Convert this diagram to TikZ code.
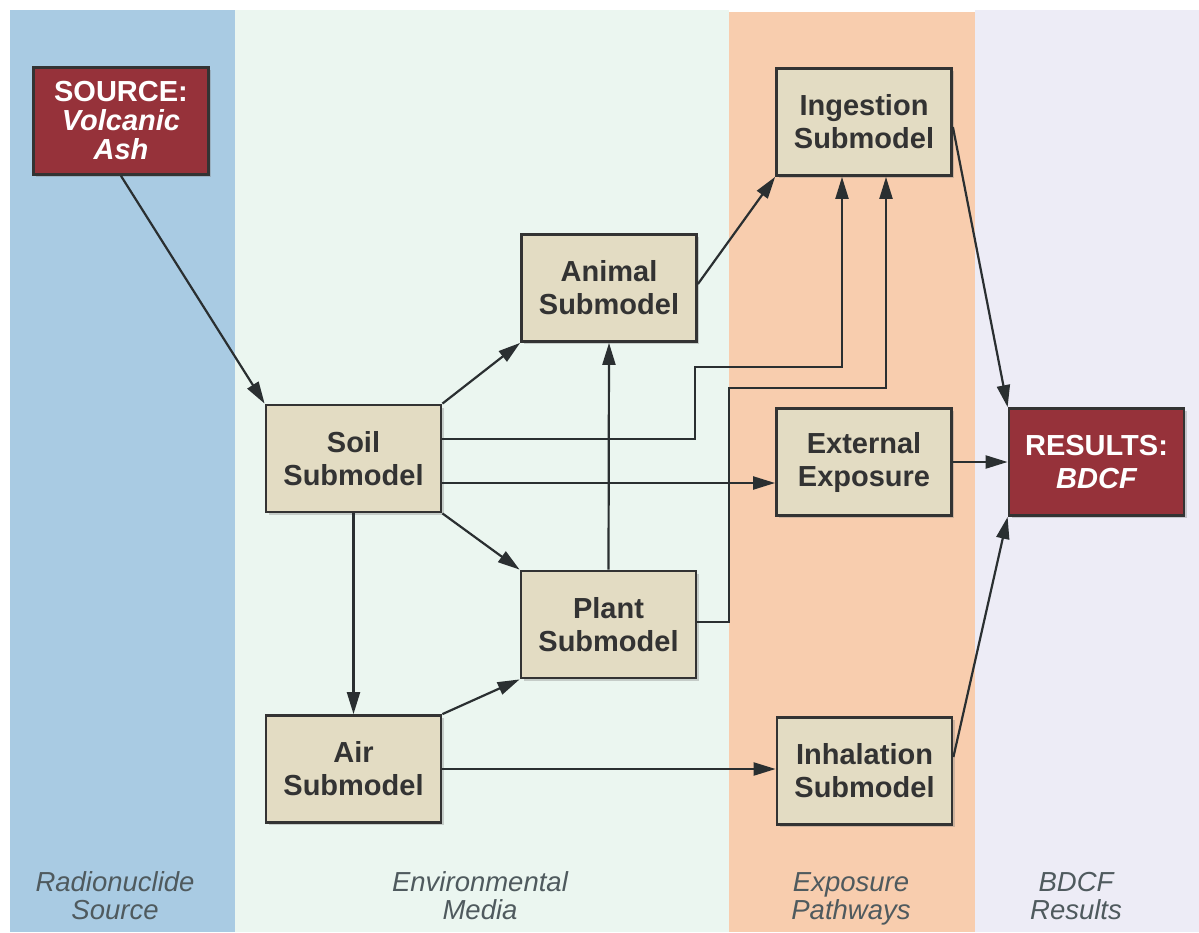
\documentclass[tikz,border=0pt]{standalone}
\usepackage{fontspec}
\setmainfont{Liberation Sans}
\usetikzlibrary{arrows.meta,shadows,calc}
\definecolor{bandblue}{HTML}{A9CBE3}
\definecolor{bandgreen}{HTML}{EBF6F0}
\definecolor{bandorange}{HTML}{F8CDAE}
\definecolor{bandlav}{HTML}{EDECF6}
\definecolor{boxfill}{HTML}{E3DCC3}
\definecolor{boxred}{HTML}{96323A}
\definecolor{boxline}{HTML}{333333}
\definecolor{boxtext}{HTML}{333333}
\definecolor{arrcol}{HTML}{2A2F31}
\definecolor{labelcol}{HTML}{4F5A5E}
\begin{document}
\begin{tikzpicture}[x=1pt,y=-1pt,
  box/.style={draw=boxline, line width=2.8pt, fill=boxfill,
    minimum width=175pt, minimum height=107pt, inner sep=0pt, align=center,
    font=\fontsize{29}{33}\selectfont\bfseries, text=boxtext,
    drop shadow={shadow xshift=2.5pt, shadow yshift=-2.5pt, opacity=0.35}},
  redbox/.style={box, fill=boxred, text=white},
  arr/.style={line width=2.2pt, draw=arrcol, -{Triangle[length=22pt,width=13pt]}},
  bandlabel/.style={font=\fontsize{27.5}{28}\selectfont\itshape, text=labelcol,
    align=center, inner sep=0pt}
]
\useasboundingbox (0,0) rectangle (1199,932);
\fill[white] (0,0) rectangle (1199,932);
\fill[bandblue] (10,10) rectangle (235,932);
\fill[bandgreen] (235,10) rectangle (729,932);
\fill[bandorange] (729,12) rectangle (975,932);
\fill[bandlav] (975,10) rectangle (1199,932);

% nodes
\node[redbox, font=\fontsize{29}{29}\selectfont\bfseries] (src) at (121,121)
  {SOURCE:\\{\itshape Volcanic}\\{\itshape Ash}};
\node[box] (ing) at (864,122) {Ingestion\\Submodel};
\node[box] (ani) at (609,288) {Animal\\Submodel};
\node[box] (soil) at (353.5,458.5) {Soil\\Submodel};
\node[box] (ext) at (864,462) {External\\Exposure};
\node[redbox] (res) at (1096.5,462) {RESULTS:\\{\itshape BDCF}};
\node[box] (plant) at (608.5,624.5) {Plant\\Submodel};
\node[box] (air) at (353.5,769) {Air\\Submodel};
\node[box] (inh) at (864.5,771) {Inhalation\\Submodel};

% band labels
\node[bandlabel] (l1) at (115,900) {Radionuclide\\Source\strut};
\node[bandlabel] (l2) at (480,900) {Environmental\\Media\strut};
\node[bandlabel] (l3) at (851,900) {Exposure\\Pathways\strut};
\node[bandlabel] (l4) at (1076,900) {BDCF\\Results\strut};

% connectors
\draw[arr] (src.south) -- (soil.north west);
\draw[arr] (soil.north east) -- (ani.south west);
\draw[arr] (soil.east |- 0,439) -- (695,439) -- (695,367) -- (842,367) -- (ing.south -| 842,0);
\draw[arr] (soil.east |- 0,483) -- (ext.west |- 0,483);
\draw[arr] (soil.south east) -- (plant.north west);
\draw[arr] (soil.south) -- (air.north);
\draw[arr] (plant.north) -- (ani.south);
\draw[arr] (plant.east |- 0,622) -- (729,622) -- (729,388) -- (886,388) -- (ing.south -| 886,0);
\draw[arr] (air.north east) -- (plant.south west);
\draw[arr] (air.east) -- (inh.west |- air.east);
\draw[arr] (ani.east |- 0,284) -- (ing.south west);
\draw[arr] (ing.east |- 0,127) -- (res.north west);
\draw[arr] (ext.east) -- (res.west);
\draw[arr] (inh.east |- 0,757) -- (res.south west);
\end{tikzpicture}
\end{document}
